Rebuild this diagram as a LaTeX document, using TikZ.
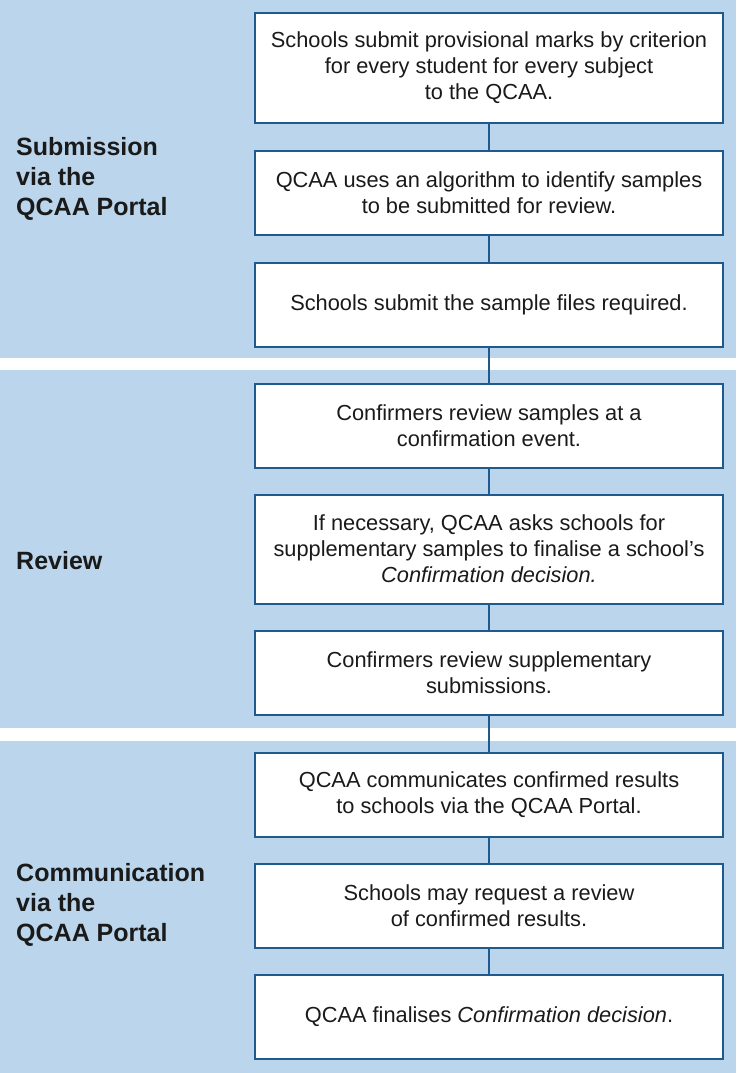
\documentclass[tikz,border=0pt]{standalone}
\usepackage{fontspec}
\setmainfont{Liberation Sans}
\usepackage{tikz}
\usetikzlibrary{positioning}

\definecolor{bandblue}{RGB}{187,214,236}
\definecolor{lineblue}{RGB}{31,90,142}
\definecolor{textgrey}{RGB}{26,26,26}

\tikzset{
    stepbox/.style={draw=lineblue, line width=2pt, fill=white, text=textgrey,
        minimum width=468pt, minimum height=84pt, align=center,
        font=\fontsize{21.8}{26}\selectfont},
    tallbox/.style={stepbox, minimum height=109pt},
    phase/.style={anchor=west, align=left, inner sep=0pt, text=textgrey,
        font=\fontsize{25}{30}\selectfont\bfseries},
    link/.style={draw=lineblue, line width=1.5pt}
}

\begin{document}
\begin{tikzpicture}[x=1pt, y=1pt]
    \useasboundingbox (0,0) rectangle (738,-1073);

    % bands
    \fill[bandblue] (0,0) rectangle (736,-358);
    \fill[bandblue] (0,-370) rectangle (736,-728);
    \fill[bandblue] (0,-741) rectangle (736,-1073);

    \node[tallbox] (s1) at (489,-68) {Schools submit provisional marks by criterion\\for every student for every subject\\to the QCAA.};
    \node[stepbox, below=26pt of s1] (s2) {QCAA uses an algorithm to identify samples\\to be submitted for review.};
    \node[stepbox, below=26pt of s2] (s3) {Schools submit the sample files required.};
    \node[stepbox, below=35pt of s3] (s4) {Confirmers review samples at a\\confirmation event.};
    \node[tallbox, below=25pt of s4] (s5) {If necessary, QCAA asks schools for\\supplementary samples to finalise a school’s\\\textit{Confirmation decision.}};
    \node[stepbox, below=25pt of s5] (s6) {Confirmers review supplementary\\submissions.};
    \node[stepbox, below=36pt of s6] (s7) {QCAA communicates confirmed results\\to schools via the QCAA Portal.};
    \node[stepbox, below=25pt of s7] (s8) {Schools may request a review\\of confirmed results.};
    \node[stepbox, below=25pt of s8] (s9) {QCAA finalises \textit{Confirmation decision}.};

    \node[phase] (p1) at (16,-179) {Submission\\via the\\QCAA Portal};
    \node[phase] (p2) at (16,-561) {Review};
    \node[phase] (p3) at (16,-905) {Communication\\via the\\QCAA Portal};

    \draw[link]
        (s1) -- (s2)
        (s2) -- (s3)
        (s3) -- (s4)
        (s4) -- (s5)
        (s5) -- (s6)
        (s6) -- (s7)
        (s7) -- (s8)
        (s8) -- (s9)
        ;
\end{tikzpicture}
\end{document}
